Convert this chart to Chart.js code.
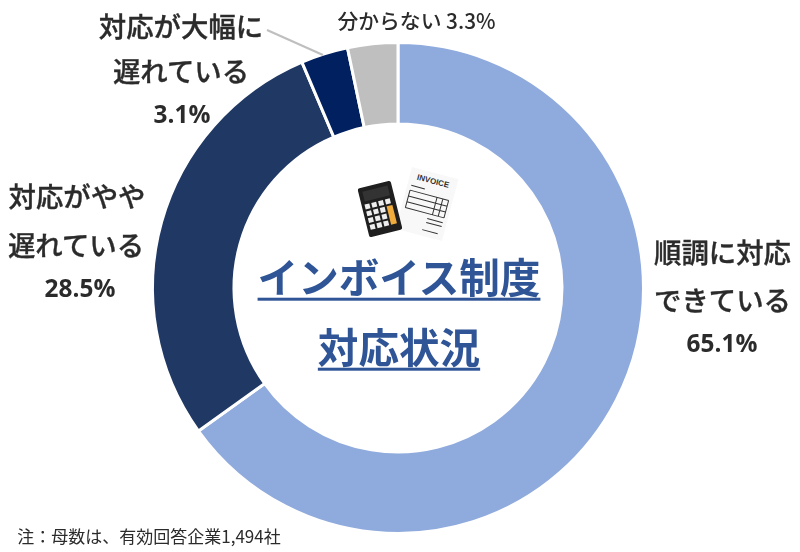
<!DOCTYPE html>
<html lang="ja"><head><meta charset="utf-8">
<script src="https://cdn.jsdelivr.net/npm/chart.js@4"></script>
<style>
html,body{margin:0;padding:0;background:#fff;width:800px;height:552px;overflow:hidden}
#wrap{position:relative;width:800px;height:552px;font-family:"Noto Sans CJK JP","Noto Sans",sans-serif;color:#2b2b2b}
canvas{position:absolute;left:0;top:0}
.t{position:absolute;white-space:nowrap;transform:translate(-50%,-50%);line-height:1;text-align:center}
.l{font-size:27.4px;font-weight:500;-webkit-text-stroke:0.35px #2b2b2b}
.v{font-size:24.4px;font-weight:700;font-family:"Open Sans","Noto Sans",sans-serif}
.c{font-size:40.6px;font-weight:700;color:#2f5597;text-decoration:underline;text-decoration-thickness:3px;text-underline-offset:5px}
svg{position:absolute;left:0;top:0}
</style></head><body>
<div id="wrap">
<canvas id="c" width="800" height="552"></canvas>
<svg width="800" height="552" viewBox="0 0 800 552">
 <line x1="267" y1="30" x2="323" y2="55" stroke="#bfbfbf" stroke-width="2.2"/>
 <g transform="translate(427 204) rotate(15)">
  <rect x="-24" y="-32" width="48" height="64" fill="#f8f8f8"/>
  <text x="0" y="-21" font-size="8" font-weight="700" text-anchor="middle" fill="#333" font-family="Liberation Sans" style="font-smooth:always">INVOICE</text>
  <g stroke="#333" stroke-width="1" fill="none">
   <path d="M-20 -14H-6M-20 -9H20M-20 -3H20M-20 3H20M-20 9H20M-20 -9V9M8 -9V9M14 -9V9M20 -9V9M4 14H20M4 18H20M2 26H18"/>
  </g>
 </g>
 <g transform="translate(380 209) rotate(-14)">
  <rect x="-17" y="-25" width="34" height="50" rx="2" fill="#1f1f1f"/>
  <rect x="-13" y="-21" width="26" height="10" fill="#333"/>
  <g fill="#eee">
   <rect x="-14" y="-8" width="5" height="5"/><rect x="-7" y="-8" width="5" height="5"/><rect x="0" y="-8" width="5" height="5"/><rect x="7" y="-8" width="5" height="5"/>
   <rect x="-14" y="-1" width="5" height="5"/><rect x="-7" y="-1" width="5" height="5"/><rect x="0" y="-1" width="5" height="5"/>
   <rect x="-14" y="6" width="5" height="5"/><rect x="-7" y="6" width="5" height="5"/><rect x="0" y="6" width="5" height="5"/>
   <rect x="-14" y="13" width="5" height="5"/><rect x="-7" y="13" width="5" height="5"/><rect x="0" y="13" width="5" height="5"/>
  </g>
  <rect x="7" y="-1" width="6" height="19" fill="#f0ad3e"/>
 </g>
</svg>
<div class="t l" style="left:722.5px;top:252px">順調に対応</div>
<div class="t l" style="left:722.5px;top:300px">できている</div>
<div class="t v" style="left:722px;top:343px">65.1%</div>
<div class="t l" style="left:77px;top:196px">対応がやや</div>
<div class="t l" style="left:76px;top:245px">遅れている</div>
<div class="t v" style="left:80px;top:288px">28.5%</div>
<div class="t l" style="left:181px;top:26px">対応が大幅に</div>
<div class="t l" style="left:181px;top:71px">遅れている</div>
<div class="t v" style="left:182px;top:114px">3.1%</div>
<div class="t" style="left:416.5px;top:20px;font-size:20.8px;font-weight:500">分からない 3.3%</div>
<div class="t c" style="left:399px;top:276px">インボイス制度</div>
<div class="t c" style="left:399px;top:346px">対応状況</div>
<div class="t" style="left:149px;top:535px;font-size:17px;font-weight:400">注：母数は、有効回答企業1,494社</div>
</div>
<script>
const categories = ['順調に対応できている','対応がやや遅れている','対応が大幅に遅れている','分からない'];
const shares = [65.1,28.5,3.1,3.3];
const sliceColors = ['#8faadc','#203864','#002060','#bfbfbf'];
new Chart(document.getElementById('c'),{
  type:'doughnut',
  data:{labels:categories,datasets:[{data:shares,backgroundColor:sliceColors,borderColor:'#ffffff',borderWidth:3}]},
  options:{
    responsive:false,animation:false,cutout:'66.8%',
    layout:{padding:{top:41,bottom:17,left:151,right:155}},
    plugins:{legend:{display:false},tooltip:{enabled:false}}
  }
});
</script>
</body></html>
